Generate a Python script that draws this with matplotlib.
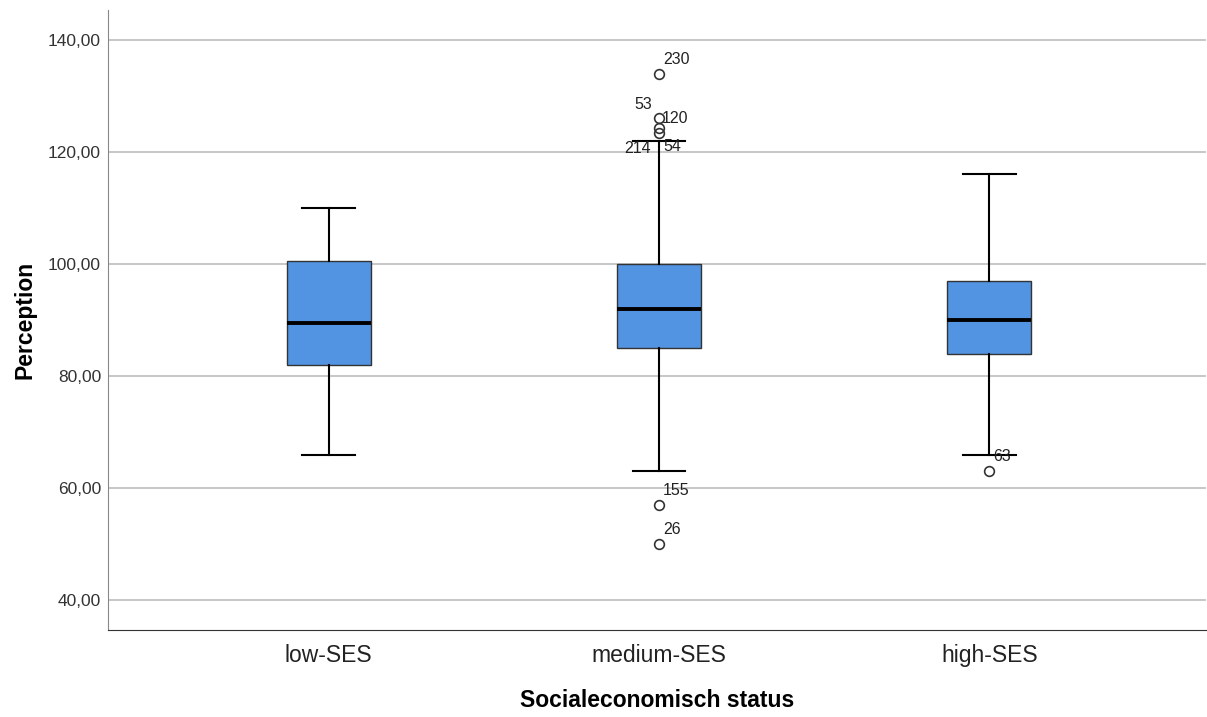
import matplotlib.pyplot as plt

plt.rcParams['font.family'] = ['Liberation Sans', 'DejaVu Sans']

groups = ['low-SES', 'medium-SES', 'high-SES']
q1 = [82, 85, 84]
med = [89.5, 92, 90]
q3 = [100.5, 100, 97]
whislo = [66, 63, 66]
whishi = [110, 122, 116]
outliers = [[], [134, 126, 124.3, 123.4, 57, 50], [63]]

# outlier case labels: (group index, value, label, side)
case_labels = [
    (1, 134, '230', 'ur'),
    (1, 126, '53', 'ul'),
    (1, 126, '120', 'r'),
    (1, 123.4, '214', 'll'),
    (1, 123.4, '54', 'lr'),
    (1, 57, '155', 'ur'),
    (1, 50, '26', 'ur'),
    (2, 63, '63', 'ur'),
]

stats = []
for i, g in enumerate(groups):
    stats.append(dict(label=g, q1=q1[i], med=med[i], q3=q3[i],
                      whislo=whislo[i], whishi=whishi[i], fliers=outliers[i]))

fig, ax = plt.subplots(figsize=(12.07, 7.17), dpi=100)
fig.subplots_adjust(left=0.0895, right=0.9995, top=0.986, bottom=0.121)

ax.bxp(stats, positions=[1, 2, 3], widths=0.254, patch_artist=True,
       boxprops=dict(facecolor='#5294E2', edgecolor='#333333', linewidth=1),
       medianprops=dict(color='black', linewidth=2.8),
       whiskerprops=dict(color='black', linewidth=1.5),
       capprops=dict(color='black', linewidth=1.5),
       capwidths=0.16,
       flierprops=dict(marker='o', markerfacecolor='none', markeredgecolor='#333333',
                       markersize=7, markeredgewidth=1.2))

offsets = {'ur': (3, 5, 'left'), 'ul': (-5, 5, 'right'), 'r': (2, 0, 'left'),
           'll': (-6, -6, 'right'), 'lr': (3, -4, 'left')}
for gi, val, txt, side in case_labels:
    dx, dy, ha = offsets[side]
    ax.annotate(txt, (gi + 1, val), xytext=(dx, dy), textcoords='offset points',
                ha=ha, va='bottom' if dy > 0 else ('top' if dy < 0 else 'center'),
                fontsize=11.5, color='#222222')

ax.set_xlim(0.332, 3.657)
ax.set_ylim(34.64, 145.36)
ax.set_yticks([40, 60, 80, 100, 120, 140])
ax.set_yticklabels(['40,00', '60,00', '80,00', '100,00', '120,00', '140,00'], fontsize=12.5, color='#333333')
ax.set_xticklabels(groups, fontsize=16.5, color='#222222')
ax.tick_params(length=0, pad=5)
ax.tick_params(axis='x', pad=10)
ax.yaxis.grid(True, color='#bdbdbd', linewidth=1.2)
ax.set_axisbelow(True)
for s in ['top', 'right']:
    ax.spines[s].set_visible(False)
ax.spines['left'].set_color('#888888')
ax.spines['bottom'].set_color('#333333')

ax.set_ylabel('Perception', fontsize=16.5, fontweight='bold', labelpad=8)
ax.set_xlabel('Socialeconomisch status', fontsize=16.5, fontweight='bold', labelpad=16)

plt.savefig('out.png')
